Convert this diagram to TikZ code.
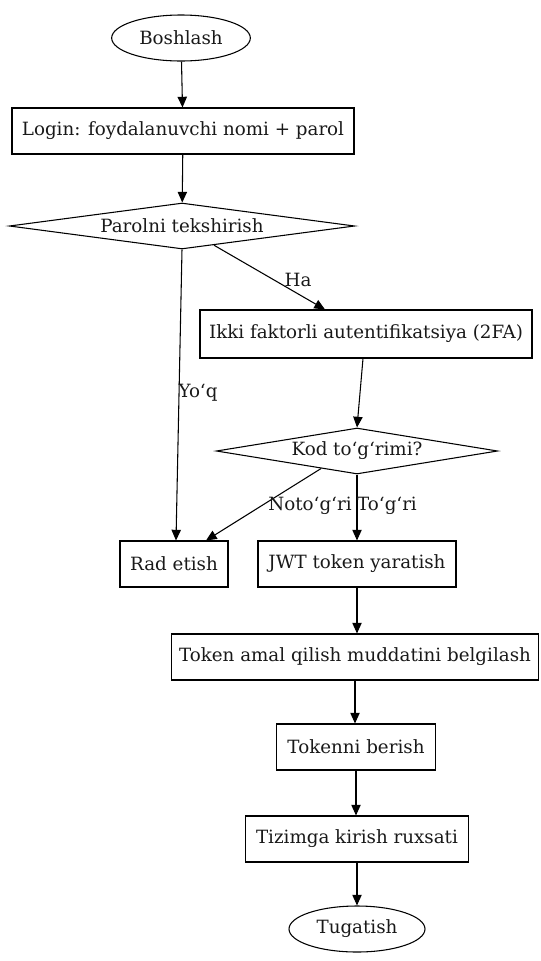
\documentclass[tikz,border=0pt]{standalone}
\usepackage{fontspec}
\setmainfont{DejaVu Serif}
\usetikzlibrary{shapes.geometric,arrows.meta,calc}
\begin{document}
\begin{tikzpicture}[x=0.75pt,y=-0.75pt,
  every node/.style={font=\fontsize{13.7}{16}\selectfont, text=black!90, inner sep=0pt},
  box/.style={draw, rectangle, line width=0.8pt, minimum height=34.5pt},
  oval/.style={draw, ellipse, line width=0.8pt, minimum height=34.5pt},
  decide/.style={draw, diamond, line width=0.8pt, minimum height=34.5pt, shape aspect=7.5},
  lbl/.style={},
  conn/.style={line width=0.8pt, -{Triangle[length=8pt,width=7pt]}}
]
\useasboundingbox (0,0) rectangle (540,961);

\node[oval, minimum width=104pt] (start) at (181,38) {Boshlash};
\node[box, minimum width=256.5pt] (login) at (183,131) {Login: foydalanuvchi nomi + parol};
\node[decide, minimum width=259pt] (par) at (182,226) {Parolni tekshirish};
\node[box, minimum width=249pt, minimum height=36pt] (ikki) at (366,334) {Ikki faktorli autentifikatsiya (2FA)};
\node[decide, minimum width=211pt] (kod) at (357,451) {Kod toʻgʻrimi?};
\node[box, minimum width=81pt] (rad) at (174,564) {Rad etish};
\node[box, minimum width=148.5pt] (jwt) at (357,564) {JWT token yaratish};
\node[box, minimum width=275pt] (tok) at (355,657) {Token amal qilish muddatini belgilash};
\node[box, minimum width=119pt] (ber) at (356,747) {Tokenni berish};
\node[box, minimum width=167pt] (tiz) at (357,839) {Tizimga kirish ruxsati};
\node[oval, minimum width=102pt] (end) at (357,929) {Tugatish};

\draw[conn] (start) -- (login);
\draw[conn] (login) -- (par);
\draw[conn] (par.-31) -- ([xshift=-30.75pt]ikki.north);
\draw[conn] (par.south) -- ([xshift=1.5pt]rad.north);
\draw[conn] ([xshift=-2.25pt]ikki.south) -- (kod.north);
\draw[conn] (kod.206) -- ([xshift=24pt]rad.north);
\draw[conn] (kod.south) -- (jwt.north);
\draw[conn] (jwt.south) -- (jwt.south |- tok.north);
\draw[conn] (tok.south) -- (tok.south |- ber.north);
\draw[conn] (ber.south) -- (ber.south |- tiz.north);
\draw[conn] (tiz.south) -- (tiz.south |- end.north);

\node[lbl] (lha) at (298,280) {Ha};
\node[lbl] (lyoq) at (198,393) {Yoʻq};
\node[lbl] (lnot) at (310,506) {Notoʻgʻri};
\node[lbl] (ltog) at (387,506) {Toʻgʻri};
\end{tikzpicture}
\end{document}
